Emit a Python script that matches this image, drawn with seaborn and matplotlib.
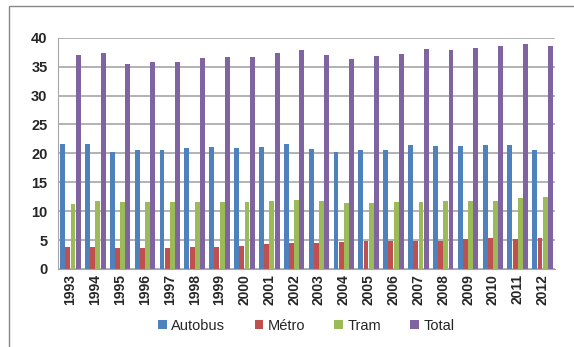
import matplotlib
matplotlib.use("Agg")
import matplotlib.pyplot as plt
import seaborn as sns
import pandas as pd
import numpy as np
from matplotlib.patches import Rectangle

years = [str(y) for y in range(1993, 2013)]
autobus = [21.7, 21.7, 20.3, 20.5, 20.6, 20.9, 21.1, 21.0, 21.1, 21.6,
           20.7, 20.3, 20.6, 20.6, 21.5, 21.3, 21.3, 21.5, 21.5, 20.6]
metro = [3.8, 3.8, 3.7, 3.7, 3.7, 3.8, 3.8, 3.9, 4.3, 4.5,
         4.5, 4.6, 4.8, 4.8, 4.9, 4.8, 5.1, 5.3, 5.2, 5.3]
tram = [11.3, 11.8, 11.5, 11.6, 11.6, 11.6, 11.5, 11.5, 11.8, 11.9,
        11.7, 11.4, 11.4, 11.5, 11.6, 11.7, 11.7, 11.7, 12.2, 12.5]
total = [37.0, 37.3, 35.5, 35.8, 35.8, 36.5, 36.6, 36.7, 37.3, 37.9,
         37.0, 36.4, 36.9, 37.2, 38.1, 37.9, 38.3, 38.6, 38.9, 38.5]
series = ["Autobus", "Métro", "Tram", "Total"]
colors = ["#4F81BD", "#C0504D", "#9BBB59", "#8064A2"]

df = pd.DataFrame({"year": years, "Autobus": autobus, "Métro": metro,
                   "Tram": tram, "Total": total})
long = df.melt(id_vars="year", var_name="serie", value_name="valeur")

sns.set_style("white")
plt.rcParams["font.family"] = ["Liberation Sans", "DejaVu Sans"]

fig = plt.figure(figsize=(5.74, 3.47), dpi=100)
ax = fig.add_axes([0.101, 0.225, 0.866, 0.666])

sns.barplot(data=long, x="year", y="valeur", hue="serie", hue_order=series,
            palette=colors, width=0.84, gap=0.06, saturation=1, linewidth=0,
            edgecolor="none", ax=ax, legend=True)

ax.set_ylim(0, 40)
ax.set_yticks(range(0, 41, 5))
ax.yaxis.grid(True, color="#a6a6a6", linewidth=1.2)
ax.set_axisbelow(True)
ax.set_xlabel("")
ax.set_ylabel("")
for side in ["top", "right"]:
    ax.spines[side].set_visible(False)
ax.spines["left"].set_color("#a6a6a6")
ax.spines["bottom"].set_color("#a6a6a6")
ax.set_xlim(-0.5, len(years) - 0.5)
# ticks between the year groups, labels at centers
ax.set_xticks(np.arange(-0.5, len(years)), minor=True)
ax.tick_params(axis="x", which="major", rotation=90, labelsize=10, length=0)
ax.tick_params(axis="x", which="minor", length=5, color="#a6a6a6")
ax.tick_params(axis="y", labelsize=10.5, length=4, color="#a6a6a6")
for lab in ax.get_xticklabels() + ax.get_yticklabels():
    lab.set_fontweight("bold")

ax.legend(loc="center", bbox_to_anchor=(0.5, -0.245), ncol=4, frameon=False,
          fontsize=10.5, handlelength=0.6, handleheight=0.6, columnspacing=2.0,
          handletextpad=0.3)

fig.patches.append(Rectangle((0.015, -0.05), 1.2, 1.032, transform=fig.transFigure,
                             fill=False, edgecolor="#888888", linewidth=1))

fig.savefig("out.png", dpi=100)
